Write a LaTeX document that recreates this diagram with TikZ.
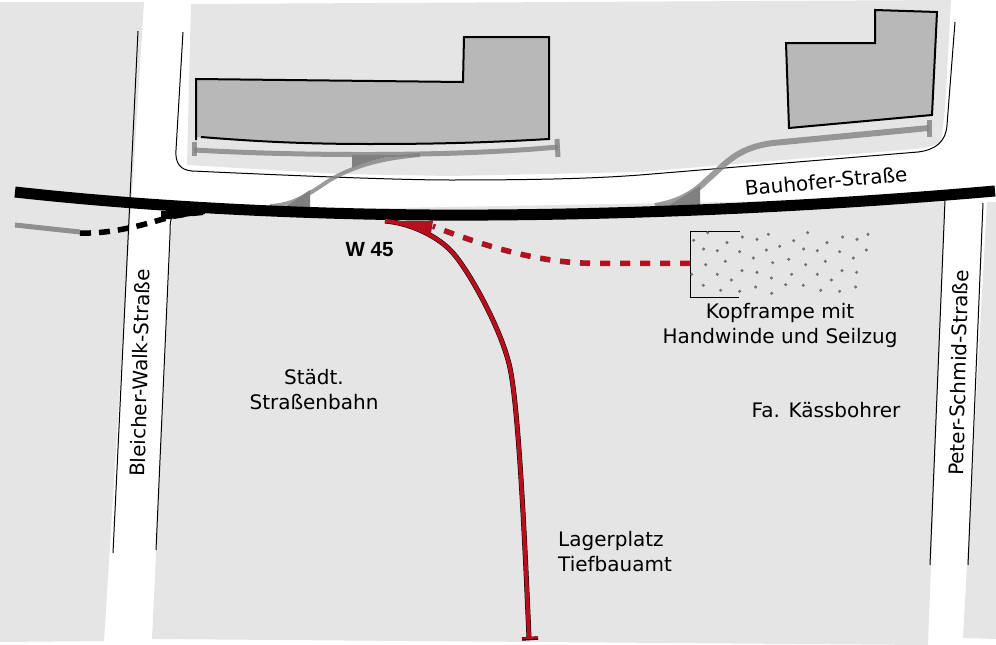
\documentclass[tikz,border=0pt]{standalone}
\usepackage{fontspec}
\setmainfont{DejaVu Sans}
\newfontfamily\boldlab{Liberation Sans}
\definecolor{ground}{HTML}{E5E5E5}
\definecolor{house}{HTML}{B8B8B8}
\definecolor{track}{HTML}{808080}
\definecolor{railred}{HTML}{B80F1E}
\tikzset{
  x=1pt,y=-1pt,
  groundarea/.style={fill=ground,draw=none},
  thinline/.style={draw=black,line width=1pt},
  building/.style={draw=black,line width=2pt,line join=miter},
  oldtrack/.style={draw=track,line width=5pt,opacity=.78},
  stopbar/.style={draw=track,line width=5pt,opacity=.8},
  label/.style={font=\fontsize{20}{25}\selectfont,align=center,inner sep=0pt},
  leftlabel/.style={font=\fontsize{20}{25}\selectfont,align=left,inner sep=0pt},
}
\begin{document}
\begin{tikzpicture}
\useasboundingbox (0,0) rectangle (996,645);
% ground
\fill[groundarea] (0,2) -- (144,2) -- (104,641) -- (0,642) -- cycle;
\fill[groundarea] (172,212) -- (945,198) -- (928,645) -- (152,639) -- cycle;
\fill[groundarea] (987,202) -- (996,202) -- (996,639) -- (963,638) -- cycle;
\fill[groundarea] (191,4) -- (951,0) -- (945,110) -- (941,142) .. controls (930,147) and (925,148) .. (915,149) -- (640,172) -- (450,176) -- (340,174) -- (187,165) -- cycle;
% street edges
\draw[thinline] (183,32) -- (176,150) .. controls (175,163) and (180,170) .. (192,171) .. controls (300,176) and (400,180) .. (450,180) .. controls (550,180) and (600,178) .. (640,175) -- (918,152) .. controls (935,150) and (946,142) .. (947,125) -- (955,22);
\draw[thinline] (138,31) -- (113,553);
\draw[thinline] (173,214) .. controls (170,220) and (170,225) .. (170,235) -- (156,550);
\draw[thinline] (945,200) -- (930,565);
\draw[thinline] (983,203) -- (968,565);
% buildings
\fill[house] (196,79) -- (463,82) -- (464,37) -- (549,37) -- (549,139) .. controls (480,143) and (430,144) .. (370,144) .. controls (300,144) and (250,141) .. (196,137) -- cycle;
\draw[building] (196,140) -- (196,79) -- (463,82) -- (464,37) -- (549,37) -- (549,139) .. controls (480,143) and (430,144) .. (370,144) .. controls (300,144) and (250,141) .. (201,137);
\filldraw[building,fill=house] (786,43) -- (875,43) -- (875,10) -- (937,12) -- (932,115) -- (789,128) -- cycle;
% upper tracks
\fill[track] (352,155) -- (400,155) .. controls (380,158) and (365,162) .. (352,168) -- cycle;
\fill[track] (310,190) -- (310,207) -- (285,207) -- cycle;
\fill[track] (700,186) -- (700,206) -- (668,206) -- cycle;
\draw[oldtrack] (194,150) .. controls (300,156) and (450,157) .. (558,147);
\draw[stopbar] (194,142) -- (194,156);
\draw[stopbar] (557,139) -- (558,157);
\draw[oldtrack,line width=4pt] (420,155) .. controls (385,158) and (358,164) .. (330,180) .. controls (310,193) and (295,205) .. (270,206);
\draw[oldtrack,line width=6pt] (929,128) -- (773,143) .. controls (735,148) and (725,165) .. (707,180) .. controls (695,192) and (680,202) .. (655,206);
\draw[stopbar] (929,120) -- (929,137);
% siding on the left
\draw[draw=track,line width=5pt,opacity=.85] (15,225) -- (80,232);
\draw[draw=black,line width=5.5pt,dash pattern=on 11pt off 8pt] (80,233) .. controls (110,234) and (140,226) .. (170,217) .. controls (185,214) and (195,213) .. (208,212);
\fill[black] (161,211) -- (205,211) -- (205,214) -- (170,219) -- (161,219) -- cycle;
% main line
\draw[black,line width=11pt] (15,192) .. controls (150,207) and (300,214) .. (430,215) .. controls (600,216) and (800,208) .. (995,191);
% W 45 points
\draw[black,line width=5pt] (385,221) .. controls (410,223) and (438,236) .. (453,253) .. controls (469,271) and (502,330) .. (510,368) .. controls (518,406) and (524,520) .. (529,638);
\draw[railred,line width=4pt] (385,221) .. controls (410,223) and (438,236) .. (453,253) .. controls (469,271) and (502,330) .. (510,368) .. controls (518,406) and (524,520) .. (529,638);
\draw[black,line width=3.5pt] (522,639) -- (538,638);
\draw[railred,line width=2pt] (522,638.5) -- (538,637.5);
\fill[railred] (385,221) -- (433,221) -- (431,233) -- (420,228) -- cycle;
\draw[black!70,line width=5pt,dash pattern=on 10pt off 10pt,yshift=-0.6pt] (690,263) -- (590,263) .. controls (540,262) and (490,248) .. (433,226);
\draw[railred,line width=5pt,dash pattern=on 10pt off 10pt] (690,263) -- (590,263) .. controls (540,262) and (490,248) .. (433,226);
% ramp
\draw[black,line width=1pt] (740,231) -- (690,231) -- (690,297) -- (739,297);
\foreach \px/\py in {203/308,161/331,261/338,307/321,351/328,385/313,461/332,503/308,608/321,651/328,684/313,561/338,191/357,232/362,299/365,379/360,419/349,491/357,532/362,599/365,679/360,340/384,446/388,640/384,556/394,256/394,197/404,398/398,497/404,306/422,351/427,606/422,650/427,155/433,232/433,455/433,532/433,394/444,274/450,574/450,190/466,347/471,437/464,490/466,647/471,242/481,299/484,542/481,599/484,395/490}
  \fill[black!55] ({640+\px/3},{130+\py/3}) circle (1.7);
% labels
\node[label] (kopf) at (780,325) {Kopframpe mit\\Handwinde und Seilzug};
\node[label] (w45) at (369.5,250) {\boldlab\bfseries\fontsize{20.5}{22}\selectfont W 45};
\node[label] (staedt) at (314,390) {Städt.\\Straßenbahn};
\node[label] (kass) at (826,410) {Fa. Kässbohrer};
\node[leftlabel,anchor=west] (lager) at (558,552) {Lagerplatz\\Tiefbauamt};
\node[label,rotate=5.3] (bauhofer) at (826,181) {Bauhofer-Straße};
\node[label,rotate=88.6] (bleicher) at (140,373) {Bleicher-Walk-Straße};
\node[label,rotate=88.6] (peter) at (958.5,373) {Peter-Schmid-Straße};
\end{tikzpicture}
\end{document}
